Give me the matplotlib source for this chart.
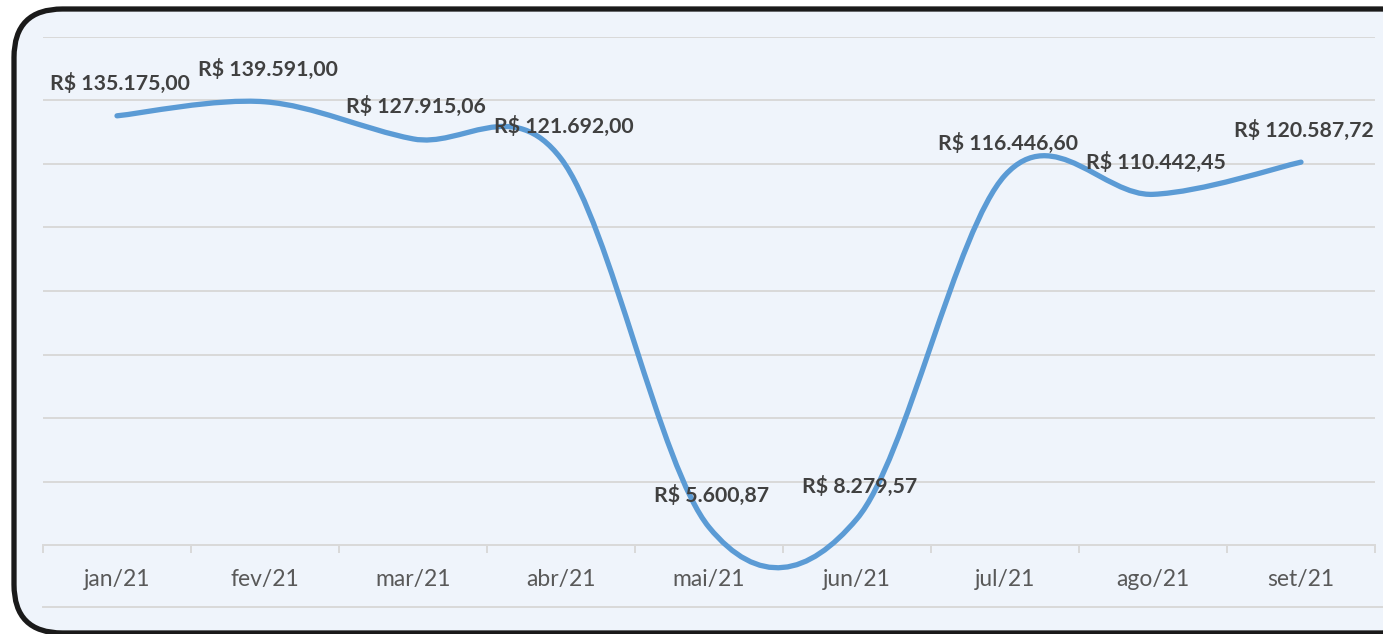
import matplotlib
matplotlib.use("Agg")
import matplotlib.pyplot as plt
from matplotlib.path import Path
from matplotlib.patches import PathPatch, FancyBboxPatch
from matplotlib.lines import Line2D
import numpy as np

categories = ["jan/21", "fev/21", "mar/21", "abr/21", "mai/21", "jun/21", "jul/21", "ago/21", "set/21"]
values = [135175.00, 139591.00, 127915.06, 121692.00, 5600.87, 8279.57, 116446.60, 110442.45, 120587.72]
labels = ["R$ 135.175,00", "R$ 139.591,00", "R$ 127.915,06", "R$ 121.692,00", "R$ 5.600,87",
          "R$ 8.279,57", "R$ 116.446,60", "R$ 110.442,45", "R$ 120.587,72"]

W, H = 1383, 634
fig = plt.figure(figsize=(W / 100, H / 100), dpi=100)
fig.patch.set_facecolor("white")

bg = "#EFF4FB"
border = FancyBboxPatch((14 / W, 1 / H), (1430 - 14) / W, (625 - 1) / H,
                        boxstyle="round,pad=0,rounding_size=0.035",
                        transform=fig.transFigure, facecolor=bg, edgecolor="#1a1a1a",
                        linewidth=3.8, mutation_aspect=W / H, zorder=-5)
fig.patches.append(border)

ax = fig.add_axes([43 / W, (H - 545) / H, (1375 - 43) / W, (545 - 37) / H])
ax.set_facecolor("none")
n = len(values)
x = np.arange(n)
ax.set_xlim(-0.5, n - 0.5)
ax.set_ylim(0, 160000)

# Excel-style smoothed line (cardinal/Catmull-Rom bezier)
pts = np.column_stack([x, values])
verts = [tuple(pts[0])]
codes = [Path.MOVETO]
for i in range(n - 1):
    p0 = pts[i - 1] if i > 0 else pts[i]
    p1 = pts[i]
    p2 = pts[i + 1]
    p3 = pts[i + 2] if i + 2 < n else pts[i + 1]
    c1 = p1 + (p2 - p0) / 6
    c2 = p2 - (p3 - p1) / 6
    verts += [tuple(c1), tuple(c2), tuple(p2)]
    codes += [Path.CURVE4] * 3
path = Path(verts, codes)
ax.add_patch(PathPatch(path, facecolor="none", edgecolor="#5B9BD5", linewidth=3.8,
                       capstyle="round", joinstyle="round", zorder=3, clip_on=False))

for xi, v, lab in zip(x, values, labels):
    ax.annotate(lab, (xi, v), xytext=(2, 23), textcoords="offset points",
                ha="center", va="center", fontsize=15.3, fontweight="bold",
                color="#404040", family="Lato", zorder=4)

ax.set_yticks(np.arange(0, 160001, 20000))
ax.yaxis.grid(True, color="#D9D9D9", linewidth=1.4)
ax.tick_params(axis="y", left=False, labelleft=False)
ax.set_xticks(x)
ax.set_xticklabels(categories, fontsize=16.5, color="#595959", family="Lato")
ax.set_xticks(np.arange(-0.5, n, 1), minor=True)
ax.tick_params(axis="x", which="major", length=0, pad=17)
ax.tick_params(axis="x", which="minor", length=6, color="#D9D9D9", width=1.4, direction="out")
for s in ["top", "left", "right"]:
    ax.spines[s].set_visible(False)
ax.spines["bottom"].set_color("#D9D9D9")
ax.spines["bottom"].set_linewidth(1.4)
ax.set_axisbelow(True)

fig.add_artist(Line2D([43 / W, 1383 / W], [(H - 607) / H] * 2, transform=fig.transFigure,
                      color="#D9D9D9", linewidth=1.4))

fig.savefig("out.png", dpi=100, facecolor=fig.get_facecolor())
